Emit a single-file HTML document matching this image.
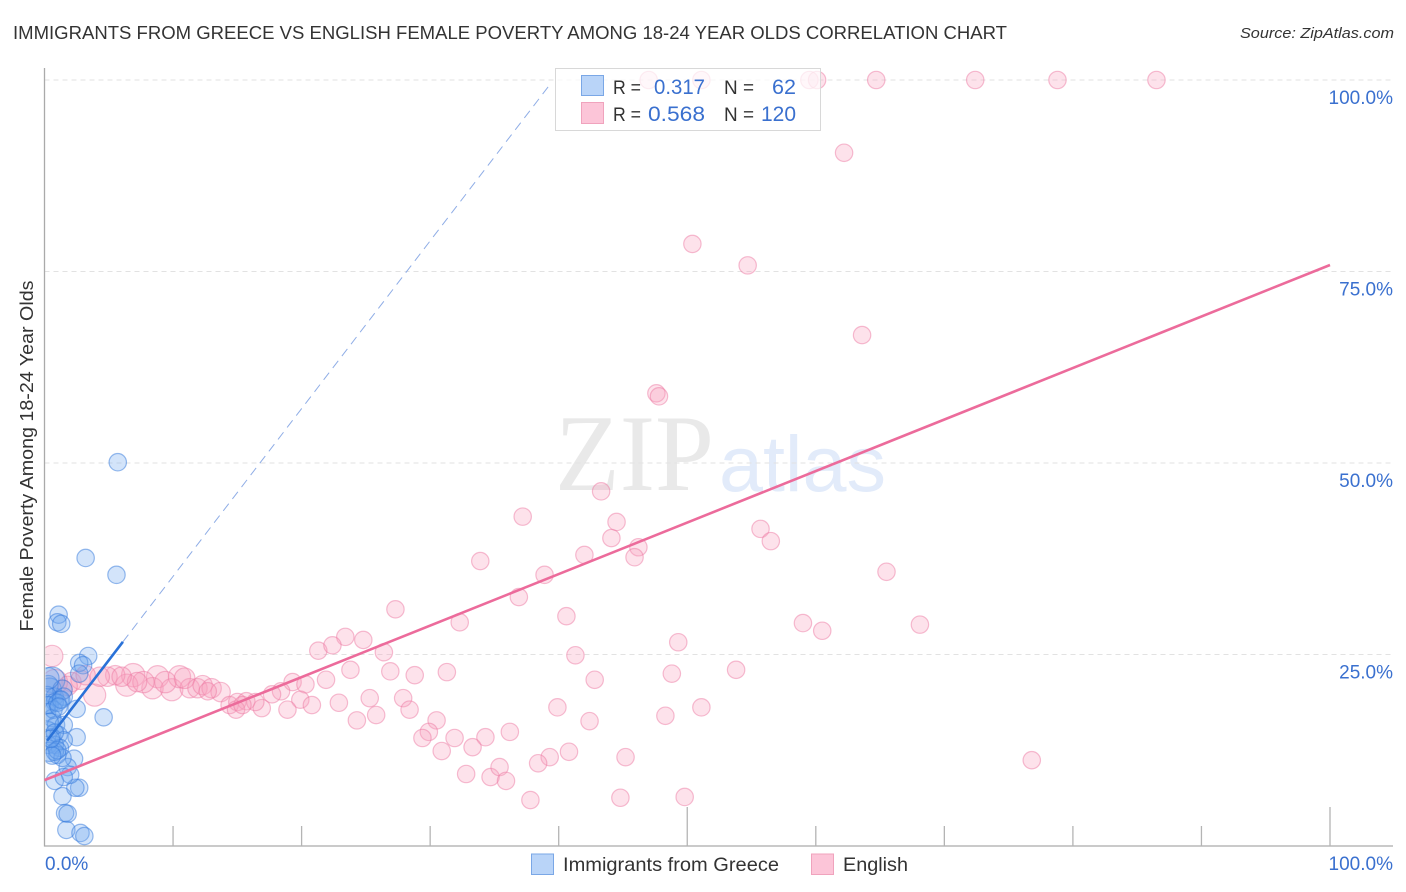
<!DOCTYPE html>
<html lang="en">
<head>
<meta charset="utf-8">
<title>Immigrants from Greece vs English Female Poverty Among 18-24 Year Olds Correlation Chart</title>
<style>
html,body{margin:0;padding:0;background:#fff;width:1406px;height:892px;overflow:hidden}
svg{display:block;font-family:"Liberation Sans",sans-serif}
</style>
</head>
<body>
<svg id="chart" xmlns="http://www.w3.org/2000/svg" width="1406" height="892" viewBox="0 0 1406 892">
  <defs>
    <clipPath id="plot-clip"><rect x="45.5" y="40" width="1360" height="806"/></clipPath>
  </defs>
  <text x="13" y="39" font-size="18.5" fill="#333" textLength="994" lengthAdjust="spacingAndGlyphs">IMMIGRANTS FROM GREECE VS ENGLISH FEMALE POVERTY AMONG 18-24 YEAR OLDS CORRELATION CHART</text>
  <text x="1394" y="38" font-size="15" font-style="italic" fill="#333" text-anchor="end" textLength="154" lengthAdjust="spacingAndGlyphs">Source: ZipAtlas.com</text>
  <text x="555" y="490" font-size="109" fill="#e9e9e9" style="font-family:'Liberation Serif',serif" textLength="159" lengthAdjust="spacingAndGlyphs">ZIP</text>
  <text x="719" y="491" font-size="79" fill="#e2ebfa" textLength="167" lengthAdjust="spacingAndGlyphs">atlas</text>
  <g id="grid"></g>
  <g id="axes"></g>
  <g id="english-points" clip-path="url(#plot-clip)"></g>
  <g id="greece-points" clip-path="url(#plot-clip)"></g>
  <g id="trends"></g>
  <g id="labels"></g>
  <text transform="translate(33,456) rotate(-90)" font-size="18.5" fill="#333" text-anchor="middle" textLength="351" lengthAdjust="spacingAndGlyphs">Female Poverty Among 18-24 Year Olds</text>

  <g>
    <rect x="555.5" y="68.5" width="265" height="62" fill="#fff" fill-opacity="0.72" stroke="#d8d8d8"/>
    <rect x="581.5" y="75.5" width="22" height="20" fill="#b9d4f8" stroke="#7aa7e6"/>
    <rect x="581.5" y="102.5" width="22" height="21" fill="#fcc5d8" stroke="#f0a3bd"/>
    <text x="613" y="94" font-size="19.5" fill="#333" textLength="28" lengthAdjust="spacingAndGlyphs">R =</text>
    <text x="705" y="94" font-size="21.5" fill="#3a70cf" text-anchor="end" textLength="51" lengthAdjust="spacingAndGlyphs">0.317</text>
    <text x="724" y="94" font-size="19.5" fill="#333" textLength="30" lengthAdjust="spacingAndGlyphs">N =</text>
    <text x="796" y="94" font-size="21.5" fill="#3a70cf" text-anchor="end" textLength="24" lengthAdjust="spacingAndGlyphs">62</text>
    <text x="613" y="121" font-size="19.5" fill="#333" textLength="28" lengthAdjust="spacingAndGlyphs">R =</text>
    <text x="705" y="121" font-size="21.5" fill="#3a70cf" text-anchor="end" textLength="57" lengthAdjust="spacingAndGlyphs">0.568</text>
    <text x="724" y="121" font-size="19.5" fill="#333" textLength="30" lengthAdjust="spacingAndGlyphs">N =</text>
    <text x="796" y="121" font-size="21.5" fill="#3a70cf" text-anchor="end" textLength="35" lengthAdjust="spacingAndGlyphs">120</text>
  </g>

  <g>
    <rect x="531.5" y="854" width="22" height="20.5" fill="#b9d4f8" stroke="#7aa7e6"/>
    <text x="563" y="871" font-size="19.5" fill="#333" textLength="216" lengthAdjust="spacingAndGlyphs">Immigrants from Greece</text>
    <rect x="811.5" y="854" width="22" height="20.5" fill="#fcc5d8" stroke="#f0a3bd"/>
    <text x="843" y="871" font-size="19.5" fill="#333" textLength="65" lengthAdjust="spacingAndGlyphs">English</text>
  </g>
</svg>
<script>
var englishX = [47.0,51.1,59.5,60.1,64.7,72.4,78.8,86.5,62.2,50.4,54.7,63.6,47.6,47.8,43.3,44.5,44.1,46.2,45.9,42.0,55.7,56.5,65.5,37.2,33.9,38.9,36.9,27.3,32.3,40.6,59.0,60.5,68.1,23.4,24.8,21.3,22.4,26.4,41.3,49.3,23.8,26.9,28.8,31.3,53.8,48.8,42.8,21.9,19.3,20.3,18.4,17.7,25.3,27.9,19.9,20.8,22.9,18.9,16.9,28.4,39.9,51.1,48.3,42.4,24.3,25.8,30.5,29.9,29.4,31.9,34.3,36.2,33.3,30.9,45.2,40.8,39.3,38.4,76.8,32.8,34.7,35.4,35.9,37.8,44.8,49.8,0.6,3.9,6.9,6.4,8.8,8.4,9.9,10.5,9.4,7.7,7.2,5.5,4.9,4.3,6.0,11.3,10.9,11.9,12.3,13.0,13.7,14.4,15.0,15.7,16.4,2.1,2.8,1.4,0.8,1.8,3.2,14.9,15.4,12.7];
var englishY = [100,100,100,100,100,100,100,100,90.5,78.6,75.8,66.7,59.1,58.7,46.3,42.3,40.2,39.0,37.7,38.0,41.4,39.8,35.8,43.0,37.2,35.4,32.5,30.9,29.2,30.0,29.1,28.1,28.9,27.3,26.9,25.5,26.2,25.3,24.9,26.6,23.0,22.8,22.3,22.7,23.0,22.5,21.7,21.7,21.4,21.1,20.2,19.8,19.3,19.3,19.1,18.4,18.7,17.8,18.0,17.8,18.1,18.1,17.0,16.3,16.4,17.1,16.4,14.9,14.1,14.1,14.2,14.9,12.9,12.4,11.6,12.3,11.6,10.8,11.2,9.4,9.0,10.3,8.5,6.0,6.3,6.4,24.8,19.7,22.3,21.0,22.1,20.6,20.4,22.1,21.4,21.4,21.4,22.3,22.1,22.1,22.1,20.6,21.9,20.6,21.0,20.6,20.1,18.4,18.8,18.9,18.8,21.4,21.7,20.4,21.4,20.9,22.3,17.8,18.4,20.2];
var englishWeight = [1,1,1,1,1,1,1,1,1,1,1,1,1,1,1,1,1,1,1,1,1,1,1,1,1,1,1,1,1,1,1,1,1,1,1,1,1,1,1,1,1,1,1,1,1,1,1,1,1,1,1,1,1,1,1,1,1,1,1,1,1,1,1,1,1,1,1,1,1,1,1,1,1,1,1,1,1,1,1,1,1,1,1,1,1,1,2,2.2,2.5,2.2,2.2,2,2.2,2.2,2,2,1.5,1.5,1.5,1.5,1.5,1.5,1.8,1.5,1.5,1.5,1.5,1,1,1,1,1.5,1.5,1.5,3,1.5,1.5,1,1,1];
var greeceX = [5.7,3.2,5.6,1.1,1.0,1.3,3.4,2.7,3.0,2.7,4.6,2.5,2.5,2.3,0.8,1.4,2.7,2.4,1.6,1.8,1.7,2.8,3.1,1.8,2.0,1.5,0.6,0.4,0.8,1.2,0.3,0.4,0.8,1.4,1.5,0.2,0.6,0.9,0.3,0.6,1.1,1.5,1.5,0.3,0.8,1.2,0.4,1.0,1.4,0.8,0.2,0.2,0.7,1.0,0.4,0.8,1.3,0.3,1.0,0.6,1.1,0.5];
var greeceY = [50.1,37.6,35.4,30.2,29.2,29.0,24.8,23.9,23.6,22.5,16.8,17.9,14.2,11.4,8.5,6.5,7.6,7.6,4.3,4.2,2.1,1.7,1.3,10.3,9.3,9.0,21.7,20.4,19.5,19.1,21.0,18.4,18.8,20.4,19.5,17.5,16.7,15.8,15.1,14.2,14.5,15.8,13.8,13.2,13.2,12.8,12.3,11.9,11.5,12.3,19.7,18.4,17.8,18.7,16.2,14.8,19.1,21.9,12.5,11.8,18.2,14.0];
var greeceWeight = [1,1,1,1,1,1,1,1,1,1,1,1,1,1,1,1,1,1,1,1,1,1,1,1,1,1,3,2.5,1,1,1.5,1,1,1.5,1,1,1,1,1,1,1,1,1,1,1,1,1.5,1,1,1,1,1,1,1,1,1,1,2,1,1,1,1];
var englishTrend = [8.6,75.85];
var greeceTrendIntercept = 13.3;
var greeceTrendSlope = 2.19;
var greeceSolidEnd = 6.1;
var greeceDashEnd = 39.4;
var xTicks = [0,10,20,30,40,50,60,70,80,90,100];
var yTicks = [25,50,75,100];
var yTickLabels = ["25.0%","50.0%","75.0%","100.0%"];
var xEndLabels = ["0.0%","100.0%"];

var NS = 'http://www.w3.org/2000/svg';
function sx(v){return 44.5 + v * 12.855;}
function sy(v){return 846 - v * 7.66;}
function sr(w){return 8.7 + (w - 1) * 2;}
function make(tag, attrs, parent){
  var el = document.createElementNS(NS, tag);
  for (var k in attrs) el.setAttribute(k, attrs[k]);
  parent.appendChild(el);
  return el;
}
var gridG = document.getElementById('grid');
yTicks.forEach(function(t){
  var ln = make('line', {x1:44.5, x2:1393, y1:sy(t), y2:sy(t), stroke:'#e2e2e2', 'stroke-width':1, 'stroke-dasharray':'5 4'}, gridG);
  
  
});
var axesG = document.getElementById('axes');
var yAxis = make('line', {x1:44.5, x2:44.5, y1:68, y2:846.5, stroke:'#aaa', 'stroke-width':1.3}, axesG);


var xAxis = make('line', {x1:44, x2:1393, y1:846, y2:846, stroke:'#aaa', 'stroke-width':1.3}, axesG);


xTicks.forEach(function(t){
  if (t === 0) return;
  var tall = t % 50 === 0;
  var tk = make('line', {x1:sx(t), x2:sx(t), y1:tall ? 807 : 826, y2:846, stroke:'#b4b4b4', 'stroke-width':1.3}, axesG);
  
  
});
function drawPoints(xs, ys, ws, groupId, fill, stroke, name){
  var g = document.getElementById(groupId);
  xs.forEach(function(v, i){
    var c = make('circle', {cx:sx(v), cy:sy(ys[i]), r:sr(ws[i]), fill:fill, stroke:stroke, 'stroke-width':1.2}, g);
    
    
  });
}
drawPoints(englishX, englishY, englishWeight, 'english-points', 'rgba(248,160,190,0.3)', 'rgba(236,120,160,0.48)', 'english-point');
drawPoints(greeceX, greeceY, greeceWeight, 'greece-points', 'rgba(110,165,240,0.3)', 'rgba(50,120,220,0.5)', 'greece-point');

var trendsG = document.getElementById('trends');
var engLine = make('line', {x1:sx(0), y1:sy(englishTrend[0]), x2:sx(100), y2:sy(englishTrend[1]), stroke:'#ec6b9b', 'stroke-width':2.6}, trendsG);


var grSolid = make('line', {x1:sx(0.2), y1:sy(greeceTrendIntercept + 0.2 * greeceTrendSlope), x2:sx(greeceSolidEnd), y2:sy(greeceTrendIntercept + greeceSolidEnd * greeceTrendSlope), stroke:'#2a72d8', 'stroke-width':2.6}, trendsG);


var grDash = make('line', {x1:sx(greeceSolidEnd), y1:sy(greeceTrendIntercept + greeceSolidEnd * greeceTrendSlope), x2:sx(greeceDashEnd), y2:sy(greeceTrendIntercept + greeceDashEnd * greeceTrendSlope), stroke:'#8fadE6', 'stroke-width':1, 'stroke-dasharray':'9 6'}, trendsG);



var labelsG = document.getElementById('labels');
yTicks.forEach(function(t, i){
  var lb = make('text', {x:1393, y:sy(t) + 24, 'font-size':19, fill:'#3a70cf', 'text-anchor':'end'}, labelsG);
  lb.textContent = yTickLabels[i];
  
  
});
var lb0 = make('text', {x:45, y:870, 'font-size':19, fill:'#3a70cf'}, labelsG);
lb0.textContent = xEndLabels[0];


var lb1 = make('text', {x:1393, y:870, 'font-size':19, fill:'#3a70cf', 'text-anchor':'end'}, labelsG);
lb1.textContent = xEndLabels[1];


</script>
</body>
</html>
